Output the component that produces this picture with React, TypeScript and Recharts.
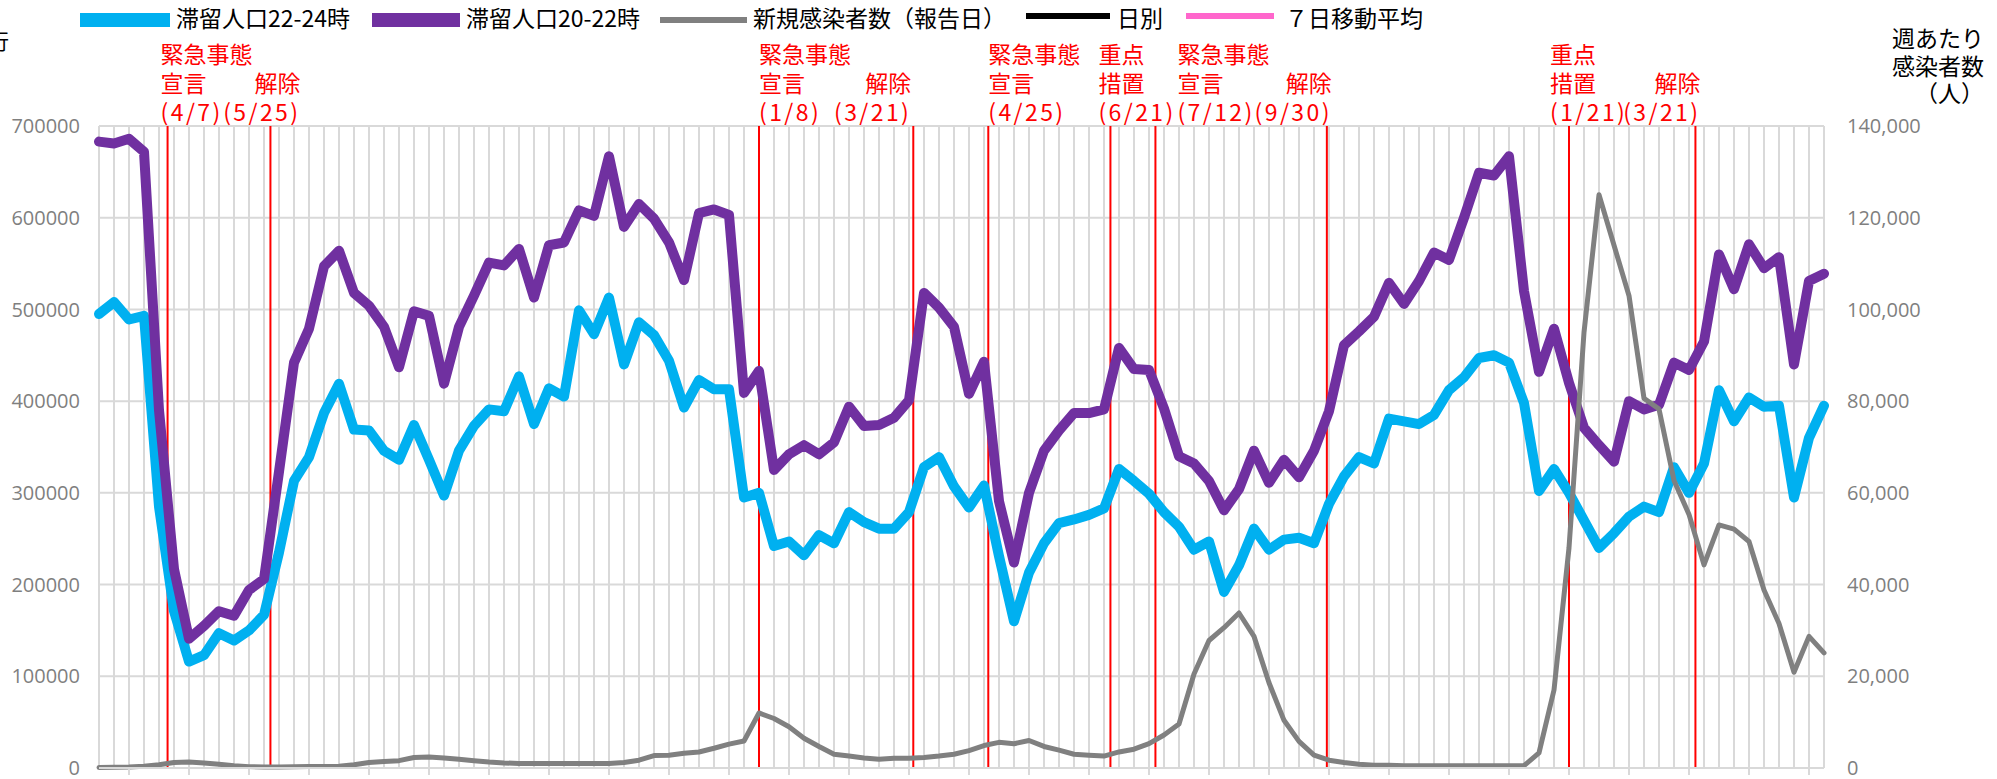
import React from 'react';
import { LineChart, Line, XAxis, YAxis, CartesianGrid, ReferenceLine, Legend } from 'recharts';

// Weekly series, first week starting 2020-03-06
const START_DATE = '2020-03-06';

// 滞留人口22-24時 (left axis)
const stay2224 = [
  495000, 508000, 489000, 493000, 285000, 171000, 116000, 123000, 147000, 139000,
  150000, 167000, 235000, 313000, 339000, 387000, 419000, 369000, 368000, 346000,
  336000, 374000, 336000, 297000, 346000, 373000, 391000, 389000, 427000, 375000,
  414000, 405000, 499000, 473000, 513000, 440000, 486000, 472000, 444000, 393000,
  423000, 413000, 413000, 295000, 300000, 242000, 247000, 232000, 254000, 245000,
  279000, 268000, 261000, 261000, 279000, 328000, 339000, 307000, 284000, 308000,
  231000, 160000, 213000, 245000, 267000, 271000, 276000, 283000, 326000, 313000,
  299000, 279000, 263000, 238000, 247000, 192000, 221000, 261000, 238000, 249000,
  251000, 245000, 288000, 318000, 339000, 332000, 381000, 378000, 375000, 385000,
  412000, 426000, 447000, 450000, 442000, 398000, 302000, 326000, 300000, 270000,
  240000, 256000, 274000, 285000, 279000, 328000, 300000, 332000, 412000, 378000,
  404000, 394000, 395000, 295000, 360000, 395000,
];

// 滞留人口20-22時 (left axis)
const stay2022 = [
  683000, 681000, 686000, 672000, 390000, 217000, 141000, 155000, 171000, 166000,
  194000, 206000, 323000, 442000, 479000, 547000, 564000, 518000, 504000, 481000,
  437000, 498000, 493000, 419000, 481000, 515000, 551000, 548000, 566000, 513000,
  570000, 573000, 608000, 602000, 667000, 590000, 615000, 599000, 573000, 532000,
  605000, 609000, 603000, 409000, 433000, 325000, 342000, 352000, 342000, 355000,
  394000, 373000, 374000, 382000, 401000, 518000, 502000, 481000, 408000, 443000,
  291000, 224000, 300000, 346000, 368000, 387000, 387000, 391000, 458000, 435000,
  434000, 392000, 340000, 332000, 313000, 281000, 304000, 346000, 311000, 336000,
  317000, 346000, 389000, 461000, 476000, 492000, 529000, 506000, 531000, 562000,
  554000, 600000, 649000, 646000, 667000, 520000, 432000, 479000, 420000, 371000,
  352000, 334000, 400000, 391000, 396000, 442000, 434000, 465000, 560000, 522000,
  571000, 545000, 557000, 440000, 531000, 539000,
];

// 新規感染者数（報告日）weekly (right axis)
const newCases = [
  100, 150, 200, 400, 700, 1200, 1300, 1100, 800, 500,
  300, 200, 200, 250, 300, 350, 400, 700, 1200, 1400,
  1600, 2300, 2400, 2200, 1900, 1600, 1300, 1100, 1000, 1000,
  1000, 1000, 1000, 1000, 1000, 1200, 1700, 2700, 2800, 3200,
  3500, 4300, 5200, 5900, 12000, 10800, 9000, 6500, 4700, 3000,
  2600, 2200, 1900, 2100, 2100, 2300, 2600, 3000, 3800, 4900,
  5600, 5300, 6000, 4700, 3900, 3000, 2800, 2600, 3500, 4100,
  5300, 7200, 9600, 20500, 27800, 30600, 33800, 28700, 18600, 10400,
  5800, 2800, 1700, 1200, 800, 600, 600, 500, 500, 500,
  500, 500, 500, 500, 500, 500, 3300, 17000, 48000, 95000,
  125000, 114000, 103000, 80600, 78300, 62700, 55300, 44300, 53000, 52100,
  49400, 38800, 31500, 20900, 28700, 25100,
];

const leftTicks = [0, 100000, 200000, 300000, 400000, 500000, 600000, 700000];
const rightTicks = [0, 20000, 40000, 60000, 80000, 100000, 120000, 140000];

// Events (dates) and their label texts
const eventDates = [
  '2020-04-07', '2020-05-25', '2021-01-08', '2021-03-21', '2021-04-25',
  '2021-06-21', '2021-07-12', '2021-09-30', '2022-01-21', '2022-03-21',
];
const eventTexts = [
  ['緊急事態', '宣言', '(4/7)'],
  ['', '解除', '(5/25)'],
  ['緊急事態', '宣言', '(1/8)'],
  ['', '解除', '(3/21)'],
  ['緊急事態', '宣言', '(4/25)'],
  ['重点', '措置', '(6/21)'],
  ['緊急事態', '宣言', '(7/12)'],
  ['', '解除', '(9/30)'],
  ['重点', '措置', '(1/21)'],
  ['', '解除', '(3/21)'],
];
// label layout (style only)
const eventLabelDx = [-7, 30, 0, -2, 0, -12, 22, 5, -19, 5];
const eventAnchor = ['start', 'end', 'start', 'end', 'start', 'start', 'start', 'end', 'start', 'end'];

const legendLabels = ['滞留人口22-24時', '滞留人口20-22時', '新規感染者数（報告日）', '日別', '７日移動平均'];
const legendColors = ['#00B0F0', '#7030A0', '#808080', '#000000', '#FF66CC'];

const rightTitle = ['週あたり', '感染者数', '（人）'];

const DAY = 24 * 3600 * 1000;
const weekIndexOf = (d: string) => (Date.parse(d + 'T00:00:00Z') - Date.parse(START_DATE + 'T00:00:00Z')) / DAY / 7;

const data = stay2224.map((v, i) => ({
  idx: i,
  stay2224: v,
  stay2022: stay2022[i],
  cases: newCases[i],
}));
const xTicks = data.map((d) => d.idx);

const CJK = '"Noto Sans CJK JP", "Noto Sans", sans-serif';
const NUM = '"Open Sans", "Noto Sans", sans-serif';

// legend layout (style only)
const legendSwatchX = [80, 372, 660, 1026, 1186];
const legendSwatchW = [90, 88, 87, 84, 88];
const legendSwatchY = [13, 13, 17, 13, 13];
const legendSwatchH = [14, 14, 6, 6, 6];
const legendTextGap = [6, 6, 6, 7, 11];

const LegendContent = () => (
  <svg width={1997} height={60} style={{ position: 'absolute', left: 0, top: 0, overflow: 'visible' }}>
    <text x={-12} y={49} fontSize={21} fontFamily={CJK} fill="#000">行</text>
    {legendLabels.map((lab, i) => (
      <g key={lab}>
        <rect x={legendSwatchX[i]} y={legendSwatchY[i]} width={legendSwatchW[i]} height={legendSwatchH[i]} fill={legendColors[i]} />
        <text x={legendSwatchX[i] + legendSwatchW[i] + legendTextGap[i]} y={27} fontSize={23} fontFamily={CJK} fill="#000">{lab}</text>
      </g>
    ))}
  </svg>
);

const makeEventLabel = (i: number) => (props: any) => {
  const vb = props.viewBox || {};
  const x = vb.x + eventLabelDx[i];
  const y0 = vb.y;
  const lines = eventTexts[i];
  const first = lines.findIndex((t) => t !== '');
  return (
    <text
      x={x}
      y={y0 - 63 + first * 29}
      textAnchor={eventAnchor[i] as any}
      fill="#FF0000"
      fontSize={23}
      fontFamily={CJK}
    >
      {lines.map((t, k) =>
        k < first ? null : (
          <tspan key={k} x={x} dy={k === first ? 0 : 29} letterSpacing={k === 2 ? 2.4 : 0}>
            {t}
          </tspan>
        )
      )}
    </text>
  );
};

const RightTitle = (props: any) => {
  const vb = props.viewBox || {};
  const x = vb.x + 160;
  return (
    <text x={x} y={vb.y - 79} textAnchor="end" fontSize={23} fontFamily={CJK} fill="#000">
      {rightTitle.map((t, k) => (
        <tspan key={k} x={x} dy={k === 0 ? 0 : 27.5}>
          {t}
        </tspan>
      ))}
    </text>
  );
};

const BottomTick = (props: any) => {
  const { x, y, payload } = props;
  if (payload.value % 4 !== 2) return <g />;
  return <line x1={x} x2={x} y1={y} y2={y + 7} stroke="#D9D9D9" strokeWidth={2} />;
};

export default function App() {
  return (
    <div style={{ position: 'absolute', left: 0, top: 0, width: 1997, height: 779, background: '#fff' }}>
      <LineChart width={1997} height={779} data={data} margin={{ top: 126, right: 0, bottom: 0, left: 0 }}>
        <CartesianGrid yAxisId="left" stroke="#D9D9D9" strokeWidth={2} vertical horizontal />
        <XAxis
          dataKey="idx"
          type="number"
          domain={[0, 115]}
          ticks={xTicks}
          interval={0}
          height={11}
          tickSize={0}
          tickMargin={0}
          tickLine={false}
          axisLine={{ stroke: '#D9D9D9', strokeWidth: 2 }}
          tick={<BottomTick />}
          allowDecimals
        />
        <YAxis
          yAxisId="left"
          orientation="left"
          width={99}
          domain={[0, 700000]}
          ticks={leftTicks}
          interval={0}
          axisLine={false}
          tickLine={false}
          tickSize={0}
          tickMargin={19}
          tick={{ fill: '#7F7F7F', fontSize: 20, fontFamily: NUM }}
        />
        <YAxis
          yAxisId="right"
          orientation="right"
          width={173}
          domain={[0, 140000]}
          ticks={rightTicks}
          interval={0}
          axisLine={false}
          tickLine={false}
          tickSize={0}
          tickMargin={23}
          tickFormatter={(v: number) => v.toLocaleString('en-US')}
          tick={{ fill: '#7F7F7F', fontSize: 20, fontFamily: NUM, textAnchor: 'start' }}
          label={{ content: RightTitle }}
        />
        <Legend verticalAlign="middle" align="center" layout="horizontal" content={LegendContent} wrapperStyle={{ position: 'absolute', left: 0, top: 0, width: 1997, height: 60, margin: 0 }} />
        {eventDates.map((d, i) => (
          <ReferenceLine
            key={d + i}
            yAxisId="left"
            x={weekIndexOf(d)}
            stroke="#FF0000"
            strokeWidth={2}
            label={makeEventLabel(i)}
          />
        ))}
        <Line yAxisId="left" type="linear" dataKey="stay2224" stroke="#00B0F0" strokeWidth={10} dot={false} activeDot={false} isAnimationActive={false} strokeLinejoin="round" strokeLinecap="round" />
        <Line yAxisId="left" type="linear" dataKey="stay2022" stroke="#7030A0" strokeWidth={10} dot={false} activeDot={false} isAnimationActive={false} strokeLinejoin="round" strokeLinecap="round" />
        <Line yAxisId="right" type="linear" dataKey="cases" stroke="#808080" strokeWidth={5} dot={false} activeDot={false} isAnimationActive={false} strokeLinejoin="round" strokeLinecap="round" />
      </LineChart>
    </div>
  );
}
